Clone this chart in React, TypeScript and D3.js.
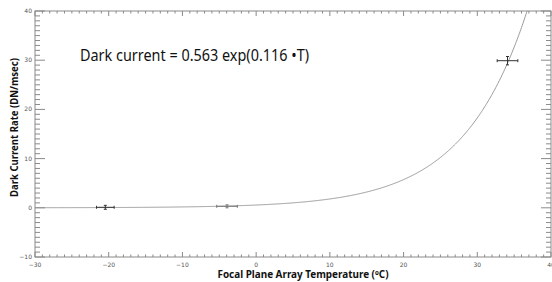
import React from "react";
import * as d3 from "d3";

const xTicks = [-30, -20, -10, 0, 10, 20, 30, 40];
const yTicks = [-10, 0, 10, 20, 30, 40];
const pointX = [-20.46, -3.95, 34.1];
const pointY = [0.1, 0.3, 29.9];
const pointXErr = [1.2, 1.4, 1.4];
const pointYErr = [0.4, 0.3, 0.85];
const fitA = 0.563;
const fitB = 0.116;
const equation = "Dark current = 0.563 exp(0.116 \u2022T)";
const xTitle = "Focal Plane Array Temperature (\u00BAC)";
const yTitle = "Dark Current Rate (DN/msec)";

const W = 552, H = 282;
const L = 35, R = 551, T = 11, B = 257;

export default function App() {
  const x = d3.scaleLinear().domain([-30, 40]).range([L, R]);
  const y = d3.scaleLinear().domain([-10, 40]).range([B, T]);
  const xMinor = d3.range(-30, 41, 1).filter((v) => v % 10 !== 0);
  const yMinor = d3.range(-10, 41, 1).filter((v) => v % 10 !== 0);
  const curveX = d3.range(-30, 40.01, 0.1);
  const line = d3
    .line<number>()
    .x((t) => x(t))
    .y((t) => y(fitA * Math.exp(fitB * t)));
  const xMaj = 5, xMin = 2.5, yMaj = 10, yMin = 5;
  const axisColor = "#8a8a8a";
  const labelColor = "#555";
  const fmt = (v: number) => (v < 0 ? "\u2212" + Math.abs(v) : String(v));
  return (
    <svg width={W} height={H} style={{ position: "absolute", left: 0, top: 0 }}>
      <rect width={W} height={H} fill="#fff" />
      <defs>
        <clipPath id="plot">
          <rect x={L} y={T} width={R - L} height={B - T} />
        </clipPath>
      </defs>
      <path d={line(curveX) || ""} fill="none" stroke="#9a9a9a" strokeWidth={1} clipPath="url(#plot)" />
      {/* axes box */}
      <rect x={L} y={T} width={R - L} height={B - T} fill="none" stroke={axisColor} strokeWidth={1} />
      {xTicks.map((v) => (
        <g key={"xt" + v}>
          <line x1={x(v)} x2={x(v)} y1={B} y2={B - xMaj} stroke={axisColor} />
          <line x1={x(v)} x2={x(v)} y1={T} y2={T + xMaj} stroke={axisColor} />
          <text x={x(v)} y={267} fontSize={6} fill={labelColor} textAnchor="middle" fontFamily="DejaVu Sans">
            {fmt(v)}
          </text>
        </g>
      ))}
      {xMinor.map((v) => (
        <g key={"xm" + v}>
          <line x1={x(v)} x2={x(v)} y1={B} y2={B - xMin} stroke={axisColor} />
          <line x1={x(v)} x2={x(v)} y1={T} y2={T + xMin} stroke={axisColor} />
        </g>
      ))}
      {yTicks.map((v) => (
        <g key={"yt" + v}>
          <line x1={L} x2={L + yMaj} y1={y(v)} y2={y(v)} stroke={axisColor} />
          <line x1={R} x2={R - yMaj} y1={y(v)} y2={y(v)} stroke={axisColor} />
          <text x={32} y={y(v) + 2} fontSize={6} fill={labelColor} textAnchor="end" fontFamily="DejaVu Sans">
            {fmt(v)}
          </text>
        </g>
      ))}
      {yMinor.map((v) => (
        <g key={"ym" + v}>
          <line x1={L} x2={L + yMin} y1={y(v)} y2={y(v)} stroke={axisColor} />
          <line x1={R} x2={R - yMin} y1={y(v)} y2={y(v)} stroke={axisColor} />
        </g>
      ))}
      {/* data points with error bars */}
      {pointX.map((px, i) => {
        const cx = x(px), cy = y(pointY[i]);
        const x0 = x(px - pointXErr[i]), x1 = x(px + pointXErr[i]);
        const y0 = y(pointY[i] - pointYErr[i]), y1 = y(pointY[i] + pointYErr[i]);
        const col = i === 1 ? "#777" : "#333";
        return (
          <g key={"p" + i} stroke={col} strokeWidth={1}>
            <line x1={x0} x2={x1} y1={cy} y2={cy} />
            <line x1={x0} x2={x0} y1={cy - 1.5} y2={cy + 1.5} />
            <line x1={x1} x2={x1} y1={cy - 1.5} y2={cy + 1.5} />
            <line x1={cx} x2={cx} y1={y0} y2={y1} />
            <line x1={cx - 1.5} x2={cx + 1.5} y1={y0} y2={y0} />
            <line x1={cx - 1.5} x2={cx + 1.5} y1={y1} y2={y1} />
          </g>
        );
      })}
      <text x={80} y={61} fontSize={17} fill="#111" fontFamily="Noto Sans" textLength={229} lengthAdjust="spacingAndGlyphs">
        {equation}
      </text>
      <text x={303} y={278} fontSize={10} fontWeight="bold" fill="#111" textAnchor="middle" fontFamily="Noto Sans" textLength={171} lengthAdjust="spacingAndGlyphs">
        {xTitle}
      </text>
      <text transform={`translate(18,127.5) rotate(-90)`} fontSize={10} fontWeight="bold" fill="#111" textAnchor="middle" fontFamily="Noto Sans" textLength={139} lengthAdjust="spacingAndGlyphs">
        {yTitle}
      </text>
    </svg>
  );
}
